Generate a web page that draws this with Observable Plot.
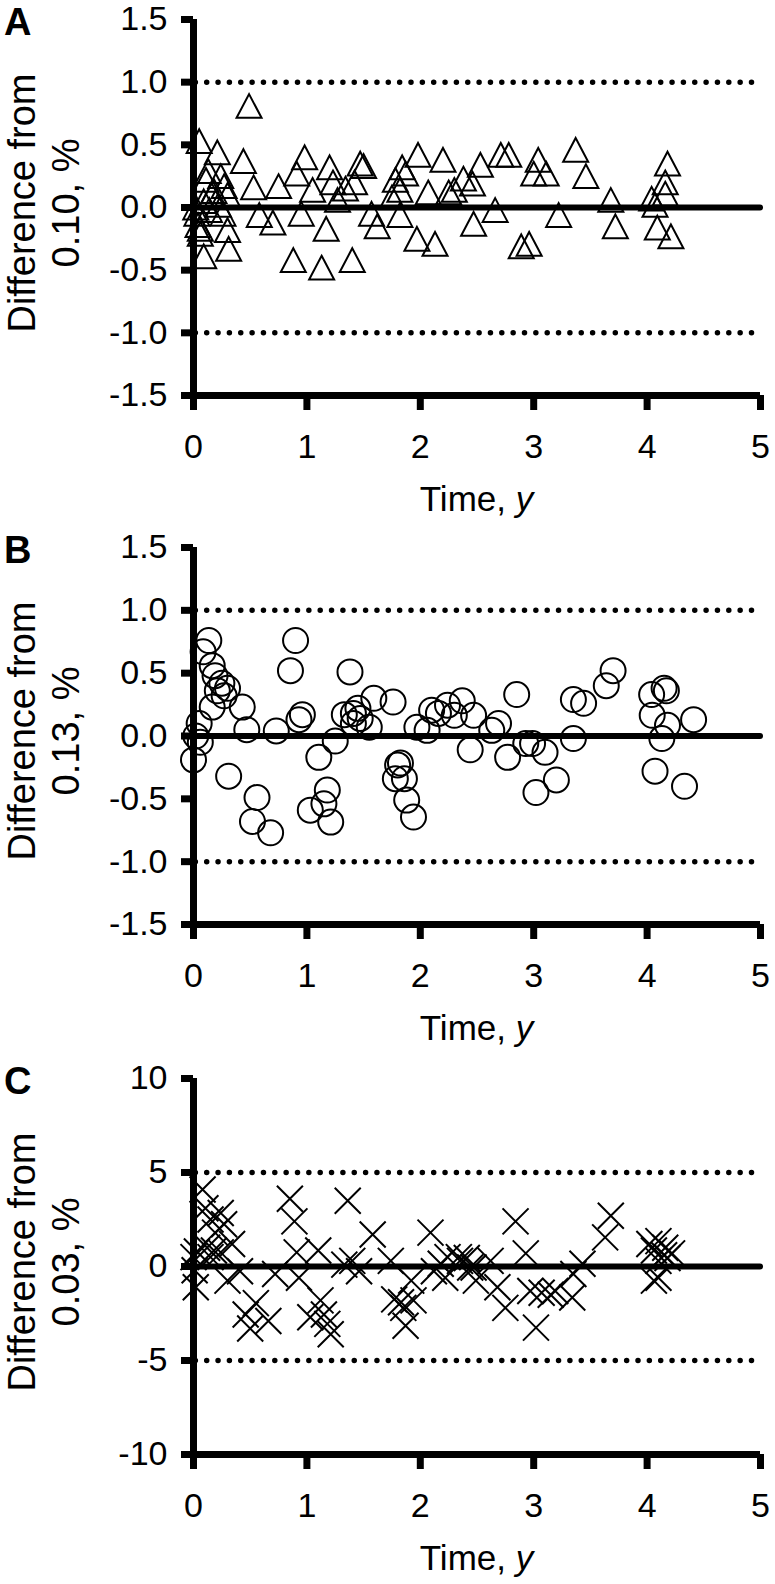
<!DOCTYPE html>
<html>
<head>
<meta charset="utf-8">
<script src="https://cdn.jsdelivr.net/npm/d3@7"></script>
<script src="https://cdn.jsdelivr.net/npm/@observablehq/plot@0.6"></script>
<style>
  html, body { margin: 0; padding: 0; background: #fff; }
  #chart svg { display: block; }
</style>
</head>
<body>
<div id="chart"></div>
<script>
// ---------------- data ----------------
const panelLetters = ["A", "B", "C"];
const referenceLabels = ["0.10", "0.13", "0.03"];
const xTicks = [0, 1, 2, 3, 4, 5];
const yTicksAB = [-1.5, -1.0, -0.5, 0, 0.5, 1.0, 1.5];
const yTicksC = [-10, -5, 0, 5, 10];
const limitsAB = [-1, 1];
const limitsC = [-5, 5];

// Panel A (triangles)
const timeA = [0.02,0.03,0.05,0.04,0.06,0.09,0.06,0.09,0.11,0.13,0.14,0.16,0.18,0.21,0.22,0.24,0.26,0.27,0.30,0.30,0.31,
  0.44,0.49,0.53,0.58,0.70,0.75,0.88,0.91,0.95,0.98,1.05,1.13,1.17,1.20,1.23,1.27,1.34,1.40,1.42,1.47,1.50,1.57,1.62,
  1.75,1.78,1.82,1.82,1.84,1.87,1.97,1.98,2.07,2.13,2.20,2.25,2.30,2.38,2.46,2.47,2.53,2.66,2.71,2.78,2.89,2.96,3.00,
  3.04,3.11,3.22,3.37,3.46,3.68,3.72,4.04,4.07,4.09,4.16,4.16,4.18,4.21];
const diffA = [0.00,-0.05,0.53,-0.14,-0.21,-0.39,-0.17,0.05,0.22,0.29,-0.02,0.10,0.13,0.44,0.02,0.25,-0.05,0.17,-0.18,0.10,-0.33,
  0.37,0.81,0.16,-0.06,-0.12,0.17,-0.42,0.27,-0.05,0.40,0.14,-0.48,-0.17,0.32,0.20,0.06,0.15,-0.42,0.20,0.35,0.33,-0.05,-0.15,
  0.08,0.22,-0.06,0.14,0.32,0.27,-0.25,0.42,0.12,-0.29,0.38,0.12,0.14,0.23,0.19,-0.13,0.34,-0.02,0.42,0.42,-0.31,-0.29,0.27,
  0.38,0.27,-0.06,0.46,0.25,0.06,-0.15,0.07,0.02,-0.16,0.11,0.20,0.35,-0.23];

// Panel B (circles)
const timeB = [0.00,0.02,0.05,0.06,0.085,0.135,0.165,0.165,0.19,0.21,0.25,0.27,0.30,0.31,0.43,0.47,0.52,0.56,0.68,0.73,
  0.855,0.90,0.93,0.96,1.03,1.105,1.15,1.18,1.21,1.25,1.33,1.38,1.41,1.41,1.45,1.47,1.55,1.59,1.76,1.78,1.80,1.825,1.86,
  1.88,1.94,1.97,2.06,2.10,2.16,2.24,2.30,2.37,2.44,2.47,2.63,2.69,2.77,2.85,2.93,2.99,3.02,3.10,3.20,3.35,3.35,3.44,
  3.64,3.70,4.04,4.045,4.07,4.13,4.15,4.17,4.18,4.33,4.41];
const diffB = [-0.19,0.00,0.10,-0.05,0.67,0.76,0.56,0.23,0.48,0.36,0.42,0.32,0.38,-0.32,0.23,0.05,-0.68,-0.49,-0.77,0.04,
  0.52,0.76,0.13,0.17,-0.59,-0.17,-0.54,-0.43,-0.685,-0.04,0.17,0.51,0.18,0.10,0.22,0.14,0.07,0.30,0.27,-0.34,-0.23,-0.215,-0.34,
  -0.51,-0.645,0.07,0.045,0.205,0.18,0.245,0.165,0.28,-0.11,0.165,0.045,0.10,-0.17,0.33,-0.06,-0.06,-0.45,-0.13,-0.35,0.29,-0.02,0.26,
  0.40,0.52,0.33,0.165,-0.28,-0.02,0.38,0.36,0.085,-0.40,0.13];

// Panel C (crosses)
const timeC = [0.00,0.01,0.02,0.03,0.08,0.105,0.12,0.15,0.15,0.18,0.19,0.24,0.24,0.27,0.30,0.34,0.41,0.46,0.50,0.55,0.66,0.72,
  0.85,0.89,0.91,0.93,1.03,1.10,1.12,1.15,1.18,1.21,1.33,1.36,1.40,1.46,1.58,1.74,1.77,1.83,1.85,1.87,1.92,1.94,2.09,2.12,
  2.18,2.24,2.22,2.34,2.35,2.41,2.44,2.47,2.49,2.62,2.68,2.75,2.84,2.93,2.97,3.02,3.07,3.15,3.19,3.34,3.35,3.43,3.63,3.68,
  4.02,4.06,4.06,4.10,4.10,4.10,4.15,4.16,4.18,4.22];
const diffC = [0.5,-0.2,-1.1,0.8,4.1,3.1,1.0,2.5,0.5,0.85,1.8,2.85,0.75,2.25,-0.75,1.2,-0.25,-2.55,-3.3,-1.95,-2.9,-0.4,
  3.6,2.4,0.75,-0.6,-2.7,0.85,-1.8,-2.55,-3.05,-3.6,0.1,3.5,0.3,-0.25,1.7,0.3,-1.75,-1.9,-2.2,-3.15,-0.75,-1.8,1.8,-0.25,
  0.15,0.5,-0.6,0.5,0.3,0.45,-0.05,-0.05,-0.75,0.3,-1.1,-2.2,2.4,0.7,-1.3,-3.25,-1.4,-1.5,-1.3,-1.65,-0.4,0.15,1.55,2.7,
  1.2,0.85,-0.75,1.35,0.3,-0.6,0.6,1.0,0.45,0.7];

// ---------------- symbols ----------------
const triangleSymbol = {
  draw(ctx, size) {
    const s = Math.sqrt(size);
    const w = s / 2, h = s * 0.95 / 2;
    ctx.moveTo(0, -h); ctx.lineTo(w, h); ctx.lineTo(-w, h); ctx.closePath();
  }
};
const crossSymbol = {
  draw(ctx, size) {
    const h = Math.sqrt(size) / 2;
    ctx.moveTo(-h, -h); ctx.lineTo(h, h);
    ctx.moveTo(-h, h); ctx.lineTo(h, -h);
  }
};

const FONT = "'Liberation Sans', Arial, Helvetica, sans-serif";
const W = 775, H = 528;
const AXIS_W = 7, TICK_W = 7, ZERO_W = 6;

const panels = [
  {time: timeA, diff: diffA, yTicks: yTicksAB, limits: limitsAB, domain: [-1.5, 1.5], symbol: triangleSymbol, r: 25 / Math.sqrt(Math.PI), fmt: d => d.toFixed(1), top: 19, bottom: 395},
  {time: timeB, diff: diffB, yTicks: yTicksAB, limits: limitsAB, domain: [-1.5, 1.5], symbol: "circle", r: 12.5, fmt: d => d.toFixed(1), top: 19, bottom: 396},
  {time: timeC, diff: diffC, yTicks: yTicksC, limits: limitsC, domain: [-10, 10], symbol: crossSymbol, r: 26 / Math.sqrt(Math.PI), fmt: d => String(d), top: 22, bottom: 398}
];

const container = document.getElementById("chart");

panels.forEach((p, i) => {
  const data = p.time.map((t, k) => ({t, d: p.diff[k]}));
  const plot = Plot.plot({
    width: W, height: H,
    marginLeft: 193, marginRight: 15, marginTop: p.top, marginBottom: H - p.bottom,
    style: {fontFamily: FONT, color: "#000", background: "#fff", overflow: "visible"},
    x: {domain: [0, 5], label: null},
    y: {domain: p.domain, label: null},
    marks: [
      Plot.ruleY(p.limits, {stroke: "#000", strokeWidth: 5.5, strokeDasharray: "0 11.35", strokeDashoffset: -2.35, strokeLinecap: "round"}),
      Plot.dot(data, {x: "t", y: "d", symbol: p.symbol, r: p.r, stroke: "#000", strokeWidth: 2, fill: "none"}),
      Plot.ruleY([0], {stroke: "#000", strokeWidth: ZERO_W, strokeLinecap: "round"}),
      Plot.ruleX([0], {stroke: "#000", strokeWidth: AXIS_W}),
      Plot.ruleY([p.domain[0]], {stroke: "#000", strokeWidth: AXIS_W}),
      Plot.axisY(p.yTicks, {tickSize: 12, stroke: "#000", strokeWidth: TICK_W, tickPadding: 14, fontSize: 34, tickFormat: p.fmt, label: null}),
      Plot.axisX(xTicks, {tickSize: 15, stroke: "#000", strokeWidth: TICK_W, tickPadding: 23, fontSize: 34, tickFormat: d => String(d), label: null})
    ]
  });

  const svg = d3.select(plot);
  const midY = p.top + 184;

  // panel letter
  svg.append("text")
    .attr("x", 4).attr("y", p.top + 16)
    .attr("text-anchor", "start")
    .attr("font-family", FONT).attr("font-size", 38).attr("font-weight", "bold")
    .attr("fill", "#000")
    .text(panelLetters[i]);

  // y-axis title (two lines, rotated)
  svg.append("text")
    .attr("transform", `translate(35,${midY}) rotate(-90)`)
    .attr("text-anchor", "middle")
    .attr("font-family", FONT).attr("font-size", 38).attr("fill", "#000")
    .text("Difference from");
  svg.append("text")
    .attr("transform", `translate(79,${midY}) rotate(-90)`)
    .attr("text-anchor", "middle")
    .attr("font-family", FONT).attr("font-size", 38).attr("fill", "#000")
    .text(referenceLabels[i] + ", %");

  // x-axis title
  const xt = svg.append("text")
    .attr("x", 476.5).attr("y", p.bottom + 116)
    .attr("text-anchor", "middle")
    .attr("font-family", FONT).attr("font-size", 35).attr("fill", "#000");
  xt.append("tspan").text("Time, ");
  xt.append("tspan").attr("font-style", "italic").text("y");

  container.appendChild(plot);
});
</script>
</body>
</html>
